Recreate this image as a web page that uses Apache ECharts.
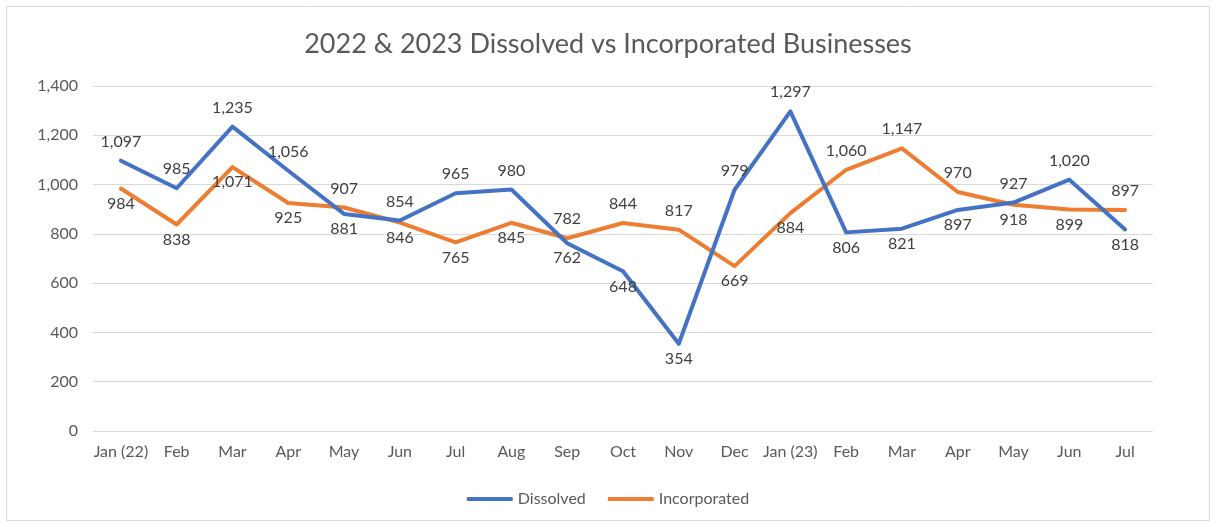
<!DOCTYPE html>
<html><head><meta charset="utf-8">
<script src="https://cdn.jsdelivr.net/npm/echarts@6/dist/echarts.min.js"></script>
<style>html,body{margin:0;padding:0;background:#fff}#c{width:1216px;height:527px}</style>
</head><body><div id="c"></div>
<script>
const categories = ['Jan (22)','Feb','Mar','Apr','May','Jun','Jul','Aug','Sep','Oct','Nov','Dec','Jan (23)','Feb','Mar','Apr','May','Jun','Jul'];
const dissolved = [1097,985,1235,1056,881,854,965,980,762,648,354,979,1297,806,821,897,927,1020,818];
const incorporated = [984,838,1071,925,907,846,765,845,782,844,817,669,884,1060,1147,970,918,899,897];
const yTicks = [0,200,400,600,800,1000,1200,1400];

const fmt = v => Number(v).toLocaleString('en-US');
const font = 'Lato, "Open Sans", sans-serif';

function build(vals, other) {
  return vals.map((v, i) => {
    const above = v >= other[i];
    return { value: v, label: { position: above ? 'top' : 'bottom', distance: above ? 11 : 7 } };
  });
}

const chart = echarts.init(document.getElementById('c'));
chart.setOption({
  animation: false,
  textStyle: { fontFamily: font },
  graphic: [{
    type: 'rect', shape: { x: 6.5, y: 6.5, width: 1203, height: 514 },
    style: { fill: 'none', stroke: '#d9d9d9', lineWidth: 1 }, silent: true
  }],
  title: {
    text: '2022 & 2023 Dissolved vs Incorporated Businesses',
    left: 'center', top: 26,
    textStyle: { fontFamily: font, fontSize: 27, fontWeight: 'normal', color: '#595959' }
  },
  legend: {
    bottom: 15, left: 'center', itemWidth: 46, itemHeight: 4, itemGap: 22,
    icon: 'roundRect',
    textStyle: { fontFamily: font, fontSize: 16, color: '#595959' },
    data: ['Dissolved', 'Incorporated']
  },
  grid: { left: 93, right: 63, top: 86, bottom: 96, containLabel: false },
  xAxis: {
    type: 'category', data: categories, boundaryGap: true,
    axisLine: { show: false }, axisTick: { show: false },
    axisLabel: { fontFamily: font, fontSize: 16, color: '#595959', margin: 13, interval: 0 }
  },
  yAxis: {
    type: 'value', min: yTicks[0], max: yTicks[yTicks.length - 1], interval: 200,
    axisLine: { show: false }, axisTick: { show: false },
    axisLabel: { fontFamily: font, fontSize: 16, color: '#595959', margin: 15, formatter: v => fmt(v) },
    splitLine: { lineStyle: { color: '#d9d9d9', width: 1 } }
  },
  series: [
    {
      name: 'Dissolved', type: 'line', data: build(dissolved, incorporated),
      symbol: 'circle', symbolSize: 0.1, showSymbol: true,
      lineStyle: { width: 4, color: '#4472C4', cap: 'round', join: 'round' },
      itemStyle: { color: '#4472C4' },
      label: { show: true, fontFamily: font, fontSize: 16, color: '#404040', formatter: p => fmt(p.value) },
      z: 3
    },
    {
      name: 'Incorporated', type: 'line', data: build(incorporated, dissolved),
      symbol: 'circle', symbolSize: 0.1, showSymbol: true,
      lineStyle: { width: 4, color: '#ED7D31', cap: 'round', join: 'round' },
      itemStyle: { color: '#ED7D31' },
      label: { show: true, fontFamily: font, fontSize: 16, color: '#404040', formatter: p => fmt(p.value) },
      z: 2
    }
  ]
});
</script></body></html>
